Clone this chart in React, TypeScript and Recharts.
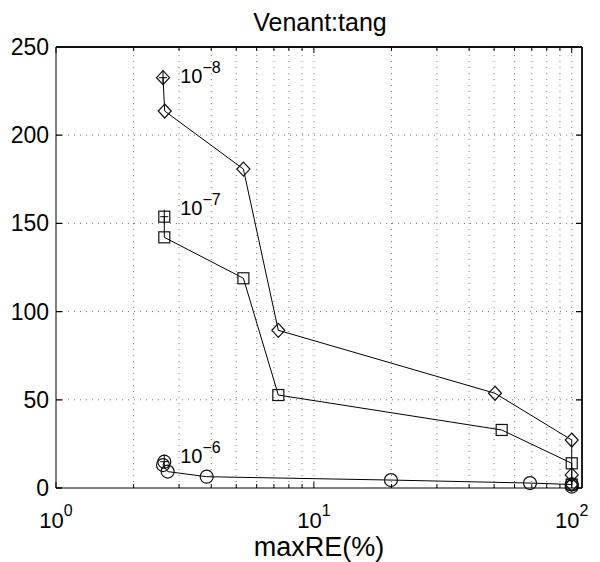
import React from "react";
import { ReferenceLine, Scatter, ScatterChart, XAxis, YAxis } from "recharts";

// diamond series (10^-8)
const diamondX = [2.6, 2.64, 5.33, 7.28, 50.4, 100, 100, 100];
const diamondY = [232.6, 213.7, 180.8, 89.4, 53.7, 27.2, 7.4, 2];
// square series (10^-7)
const squareX = [2.63, 2.63, 5.33, 7.28, 53.5, 100, 100];
const squareY = [153.8, 142.1, 118.9, 52.7, 32.9, 14, 2];
// circle series (10^-6)
const circleX = [2.63, 2.6, 2.71, 3.84, 19.9, 68.9, 100, 100];
const circleY = [14.9, 13, 9.3, 6.4, 4.5, 2.8, 2, 0.8];

const seriesLabels = ["-8", "-7", "-6"];
const labelX = [3.03, 3.03, 3.03];
const labelY = [229.6, 154.8, 14.2];

const xTicks = [1, 2, 3, 4, 5, 6, 7, 8, 9, 10, 20, 30, 40, 50, 60, 70, 80, 90, 100];
const xGrid = [2, 3, 4, 5, 6, 7, 8, 9, 10, 20, 30, 40, 50, 60, 70, 80, 90, 100];
const yTicks = [0, 50, 100, 150, 200, 250];
const yGrid = [50, 100, 150, 200];
const majorX = [1, 10, 100];
const xMax = 109.6;
const yMax = 250;

const FONT = "'Liberation Sans', Arial, Helvetica, sans-serif";

// layout
const W = 600;
const H = 562;
const MARGIN = { top: 47, right: 18, bottom: 0, left: 0 };
const Y_AXIS_W = 56;
const X_AXIS_H = 74;
const PLOT_W = W - MARGIN.left - MARGIN.right - Y_AXIS_W;
const PLOT_H = H - MARGIN.top - MARGIN.bottom - X_AXIS_H;

const toPoints = (xs: number[], ys: number[]) => xs.map((x, i) => ({ x, y: ys[i] }));

const diamondData = toPoints(diamondX, diamondY);
const squareData = toPoints(squareX, squareY);
const circleData = toPoints(circleX, circleY);
const labelData = labelX.map((x, i) => ({ x, y: labelY[i], exp: seriesLabels[i] }));

const Plus = ({ cx, cy }: any) => (
    <g stroke="#000" strokeWidth={1}>
        <line x1={cx - 4} x2={cx + 4} y1={cy} y2={cy} />
        <line x1={cx} x2={cx} y1={cy - 7} y2={cy + 7} />
    </g>
);

const Diamond = (props: any) => {
    const { cx, cy, index } = props;
    const r = 7;
    return (
        <g>
            <path d={`M${cx},${cy - r}L${cx + r - 0.5},${cy}L${cx},${cy + r}L${cx - r + 0.5},${cy}Z`} fill="none" stroke="#111" strokeWidth={1.2} />
            {index === 0 && <Plus cx={cx} cy={cy} />}
        </g>
    );
};

const Square = (props: any) => {
    const { cx, cy, index } = props;
    const r = 5.5;
    return (
        <g>
            <rect x={cx - r} y={cy - r} width={2 * r} height={2 * r} fill="none" stroke="#111" strokeWidth={1.2} />
            {index === 0 && <Plus cx={cx} cy={cy} />}
        </g>
    );
};

const Circle = (props: any) => {
    const { cx, cy, index } = props;
    return (
        <g>
            <circle cx={cx} cy={cy} r={6.5} fill="none" stroke="#111" strokeWidth={1.2} />
            {index === 0 && <Plus cx={cx} cy={cy} />}
        </g>
    );
};

const SeriesLabel = (props: any) => {
    const { cx, cy, payload } = props;
    return (
        <text x={cx} y={cy} fontFamily={FONT} fontSize={20} fill="#000">
            10
            <tspan dy={-10} fontSize={16}>{payload.exp.replace("-", "\u2212")}</tspan>
        </text>
    );
};

// bottom tick: inner tick on bottom and top edge, label for decades
const BottomTick = (props: any) => {
    const { x, y, payload } = props;
    const axisY = y - 8;
    const topY = axisY - PLOT_H;
    const major = majorX.includes(payload.value);
    const len = major ? 6 : 4;
    return (
        <g>
            <path d={`M${x},${axisY}V${axisY - len}M${x},${topY}V${topY + len}`} stroke="#000" strokeWidth={1} fill="none" />
            {major && (
                <text x={x} y={axisY + 40} textAnchor="middle" fontFamily={FONT} fontSize={22} fill="#000">
                    10
                    <tspan dy={-12} fontSize={16}>{Math.round(Math.log10(payload.value))}</tspan>
                </text>
            )}
        </g>
    );
};

// left tick: inner ticks on both sides, plus the top and right frame edges
const LeftTick = (props: any) => {
    const { x, y, payload } = props;
    const axisX = x + 8;
    const rightX = axisX + PLOT_W;
    let d = `M${axisX},${y}H${axisX + 6}M${rightX},${y}H${rightX - 6}`;
    if (payload.value === yMax) d += `M${axisX},${y}H${rightX}`;
    if (payload.value === 0) d += `M${rightX},${y}V${y - PLOT_H}`;
    return (
        <g>
            <path d={d} stroke="#000" strokeWidth={1.3} fill="none" />
            <text x={x + 1} y={y + 8} textAnchor="end" fontFamily={FONT} fontSize={23} fill="#000">
                {payload.value}
            </text>
        </g>
    );
};

export default function App() {
    return (
        <div style={{ position: "absolute", left: 0, top: 0, width: W, height: H, background: "#fff" }}>
            <ScatterChart width={W} height={H} margin={MARGIN} style={{ overflow: "visible" }}>
                <XAxis
                    dataKey="x"
                    type="number"
                    scale="log"
                    domain={[1, xMax]}
                    allowDataOverflow
                    ticks={xTicks}
                    interval={0}
                    tickSize={6}
                    tickMargin={2}
                    tickLine={false}
                    height={X_AXIS_H}
                    axisLine={{ stroke: "#000" }}
                    tick={<BottomTick />}
                />
                <YAxis
                    dataKey="y"
                    type="number"
                    domain={[0, yMax]}
                    ticks={yTicks}
                    interval={0}
                    tickSize={6}
                    tickMargin={2}
                    tickLine={false}
                    width={Y_AXIS_W}
                    axisLine={{ stroke: "#000" }}
                    tick={<LeftTick />}
                />
                {xGrid.map((v) => (
                    <ReferenceLine key={`gx${v}`} x={v} stroke="#777" strokeDasharray="1 5" />
                ))}
                {yGrid.map((v) => (
                    <ReferenceLine key={`gy${v}`} y={v} stroke="#777" strokeDasharray="1 5" />
                ))}
                <ReferenceLine y={yMax} stroke="#000" strokeWidth={1.3} ifOverflow="extendDomain" />
                <ReferenceLine x={xMax} stroke="#000" strokeWidth={1.3} ifOverflow="extendDomain" />
                <Scatter data={diamondData} line={{ stroke: "#000", strokeWidth: 1 }} shape={<Diamond />} isAnimationActive={false} />
                <Scatter data={squareData} line={{ stroke: "#000", strokeWidth: 1 }} shape={<Square />} isAnimationActive={false} />
                <Scatter data={circleData} line={{ stroke: "#000", strokeWidth: 1 }} shape={<Circle />} isAnimationActive={false} />
                <Scatter data={labelData} shape={<SeriesLabel />} isAnimationActive={false} />
            </ScatterChart>
            <svg width={W} height={40} style={{ position: "absolute", left: 0, top: 0, pointerEvents: "none" }}>
                <text x={320} y={31} textAnchor="middle" fontFamily={FONT} fontSize={25} fill="#000">
                    Venant:tang
                </text>
            </svg>
            <svg width={W} height={32} style={{ position: "absolute", left: 0, top: 530, pointerEvents: "none" }}>
                <text x={319} y={26} textAnchor="middle" fontFamily={FONT} fontSize={27} fill="#000">
                    maxRE(%)
                </text>
            </svg>
        </div>
    );
}
